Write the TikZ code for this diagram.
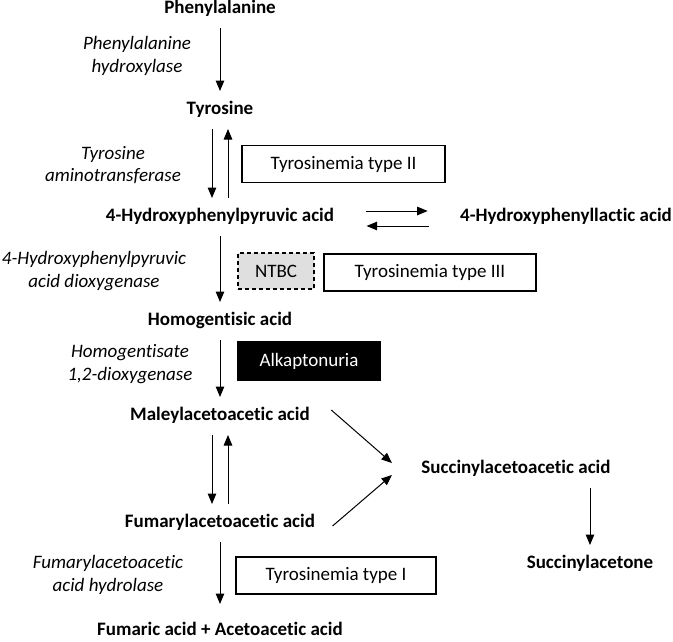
\documentclass[tikz,border=0pt]{standalone}
\usepackage{fontspec}
\setmainfont{Carlito}[Ligatures=NoCommon]
\usepackage{tikz}
\usetikzlibrary{arrows.meta,calc,positioning}

\begin{document}
\begin{tikzpicture}[x=1pt, y=-1pt, line width=1pt,
    every node/.style={font=\fontsize{19}{22.5}\selectfont},
    chem/.style={font=\fontsize{19}{22.5}\selectfont\bfseries, text height=13pt, text depth=4pt, inner xsep=2pt, inner ysep=10pt},
    enzyme/.style={font=\fontsize{19}{22.5}\selectfont\itshape, align=center},
    disease/.style={draw, line width=1.1pt, minimum height=37pt, inner sep=0pt},
    arr/.style={-{Triangle[length=10.5pt,width=8.5pt]}}]
    \useasboundingbox (0,0) rectangle (673,641);
    % metabolites
    \node[chem] (phe) at (220,9)   {Phenylalanine};
    \node[chem] (tyr) at (220,110) {Tyrosine};
    \node[chem] (hpp) at (220,217) {4-Hydroxyphenylpyruvic acid};
    \node[chem] (hpl) at (566,217) {4-Hydroxyphenyllactic acid};
    \node[chem] (hga) at (220,321) {Homogentisic acid};
    \node[chem] (mal) at (220,416) {Maleylacetoacetic acid};
    \node[chem] (fum) at (220,523) {Fumarylacetoacetic acid};
    \node[chem] (saa) at (516,469) {Succinylacetoacetic acid};
    \node[chem] (sac) at (590,564) {Succinylacetone};
    \node[chem] (fac) at (220,631) {Fumaric acid + Acetoacetic acid};
    % enzymes
    \node[enzyme] (pah) at (137,56)  {Phenylalanine\\hydroxylase};
    \node[enzyme] (tat) at (113,165) {Tyrosine\\aminotransferase};
    \node[enzyme] (hppd) at (94,271) {4-Hydroxyphenylpyruvic\\acid dioxygenase};
    \node[enzyme] (hgd) at (130,364) {Homogentisate\\1,2-dioxygenase};
    \node[enzyme] (fah) at (108,575) {Fumarylacetoacetic\\acid hydrolase};
    % diseases and drug
    \node[disease, minimum width=203pt] (ty2) at (343.5,164) {Tyrosinemia type II};
    \node[disease, minimum width=76pt, minimum height=36pt, dashed, dash pattern=on 4pt off 3pt, fill=gray!25] (ntbc) at (276,271) {NTBC};
    \node[disease, minimum width=212pt] (ty3) at (430,272.5) {Tyrosinemia type III};
    \node[disease, minimum width=142pt, minimum height=38pt, fill=black, text=white] (alk) at (309,361) {Alkaptonuria};
    \node[disease, minimum width=200pt] (ty1) at (336,575.5) {Tyrosinemia type I};
    % reactions
    \foreach \a/\b in {phe/tyr, hpp/hga, hga/mal}
        \draw[arr] (\a.south) -- (\b.north);
    \draw[arr, shorten >=8pt] (fum.south) -- (fac.north);
    \foreach \a/\b in {tyr/hpp, mal/fum}
        {\draw[arr] ([xshift=-8pt]\a.south) -- ([xshift=-8pt]\b.north);
         \draw[arr] ([xshift=8pt]\b.north) -- ([xshift=8pt]\a.south);}
    \draw[arr, shorten <=29pt, shorten >=30pt] ([yshift=6pt]hpp.east) -- ([yshift=6pt]hpl.west);
    \draw[arr, shorten <=29pt, shorten >=30pt] ([yshift=-9pt]hpl.west) -- ([yshift=-9pt]hpp.east);
    \draw[arr] ([xshift=19pt,yshift=6pt]mal.east) -- ([xshift=-27pt,yshift=6pt]saa.west);
    \draw[arr] ([xshift=15pt,yshift=-3pt]fum.east) -- ([xshift=-27pt,yshift=-6pt]saa.west);
    \draw[arr] (sac.north |- saa.south) -- (sac.north);
\end{tikzpicture}
\end{document}
